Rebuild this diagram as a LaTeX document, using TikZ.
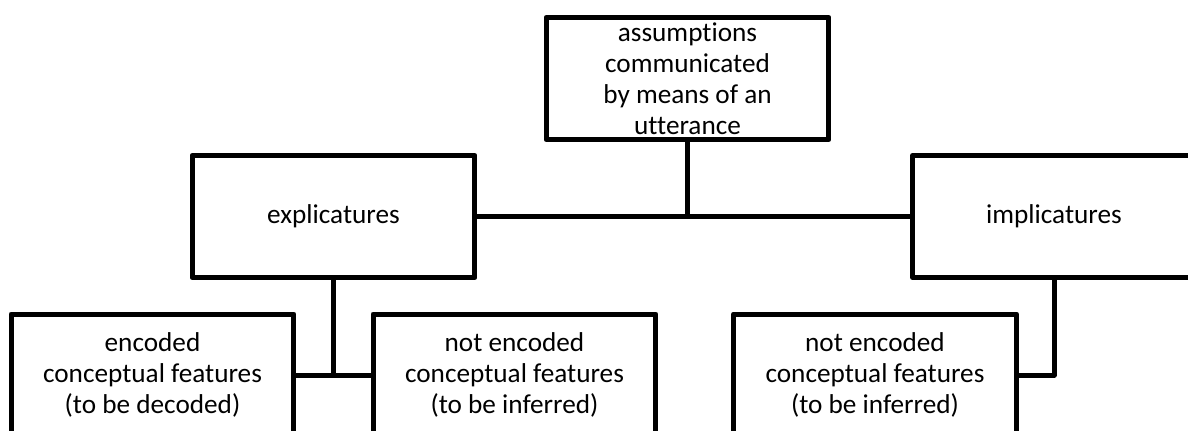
\documentclass[tikz,border=0pt]{standalone}
\usepackage{fontspec}
\setmainfont{Carlito}[Ligatures=NoCommon]
\usepackage{tikz}

\begin{document}
\begin{tikzpicture}[x=0.02cm,y=-0.02cm,line width=0.1cm,line join=round,
		elbow/.style={to path={|- (\tikztotarget)}},
		main node/.style={rectangle,draw,align=center,inner sep=0pt,minimum width=5.66cm,minimum height=2.44cm,font=\fontsize{15.5}{17.6}\selectfont}]
		
		\useasboundingbox (0,0) rectangle (1188,430);
		\fill[white] (0,0) rectangle (1188,430);
		\clip (0,0) rectangle (1188,430);
		
		\node[main node] (1) at (687.5,78.5) {assumptions\\communicated\\by means of an\\utterance};
		\node[main node] (2) at (333.5,216.5) {explicatures};
		\node[main node] (3) at (1054,216.5) {implicatures};
		\node[main node] (4) at (152.5,375) {encoded\\conceptual features\\(to be decoded)};
		\node[main node] (5) at (514.5,375) {not encoded\\conceptual features\\(to be inferred)};
		\node[main node] (6) at (875,375) {not encoded\\conceptual features\\(to be inferred)};
		\path
		
		(1) edge (1 |- 2)
		(2) edge (3)
			edge (2 |- 4)
		(4) edge (5)
		(3) edge [elbow] (6);
		
		\end{tikzpicture}
\end{document}
